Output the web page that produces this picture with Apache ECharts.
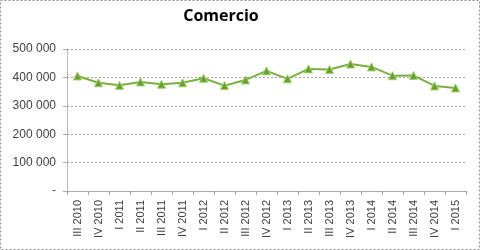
<!DOCTYPE html>
<html><head><meta charset="utf-8">
<script src="https://cdn.jsdelivr.net/npm/echarts@6/dist/echarts.min.js"></script>
<style>html,body{margin:0;padding:0;background:#fff}#c{width:480px;height:250px}</style>
</head><body><div id="c"></div>
<script>
const categories = ['III 2010','IV 2010','I 2011','II 2011','III 2011','IV 2011','I 2012','II 2012','III 2012','IV 2012','I 2013','II 2013','III 2013','IV 2013','I 2014','II 2014','III 2014','IV 2014','I 2015'];
const values = [405000,381000,372000,384000,376000,381000,397000,371000,391000,423000,395000,430000,428000,447000,437000,406000,407000,370000,363000];
const yTicks = [0,100000,200000,300000,400000,500000];
const title = 'Comercio';

const chart = echarts.init(document.getElementById('c'));
chart.setOption({
  animation:false,
  title:{text:title,left:216,top:3,textAlign:'center',textStyle:{fontFamily:'Open Sans, sans-serif',fontSize:16,fontWeight:'bold',color:'#000'}},
  graphic:[{type:'rect',shape:{x:0.5,y:0.5,width:479,height:249},style:{fill:'none',stroke:'#8c8c8c',lineWidth:1,lineDash:[2,2]}}],
  grid:{left:67,right:14,top:49,bottom:59},
  xAxis:{type:'category',data:categories,boundaryGap:true,
    axisLine:{lineStyle:{color:'#a6a6a6',type:'dotted'}},
    axisTick:{show:true,length:4,lineStyle:{color:'#a6a6a6'}},
    axisLabel:{rotate:90,fontFamily:'Liberation Sans, sans-serif',fontSize:11,color:'#404040',margin:9,interval:0}},
  yAxis:{type:'value',min:yTicks[0],max:yTicks[yTicks.length-1],interval:100000,
    axisLine:{show:true,lineStyle:{color:'#a6a6a6',type:'dotted'}},
    axisTick:{show:true,length:4,lineStyle:{color:'#a6a6a6'}},
    splitLine:{lineStyle:{color:'#a0a0a0',type:[2,2]}},
    axisLabel:{fontFamily:'Liberation Sans, sans-serif',fontSize:12,color:'#404040',margin:11,
      formatter:v=>v===0?'-':String(v).replace(/\B(?=(\d{3})+(?!\d))/g,' ')}},
  series:[{type:'line',data:values,symbol:'triangle',symbolSize:8,
    lineStyle:{color:'#77b140',width:2},
    itemStyle:{color:'#6a9e32',borderColor:'#9fd163',borderWidth:1}}]
});
</script></body></html>
